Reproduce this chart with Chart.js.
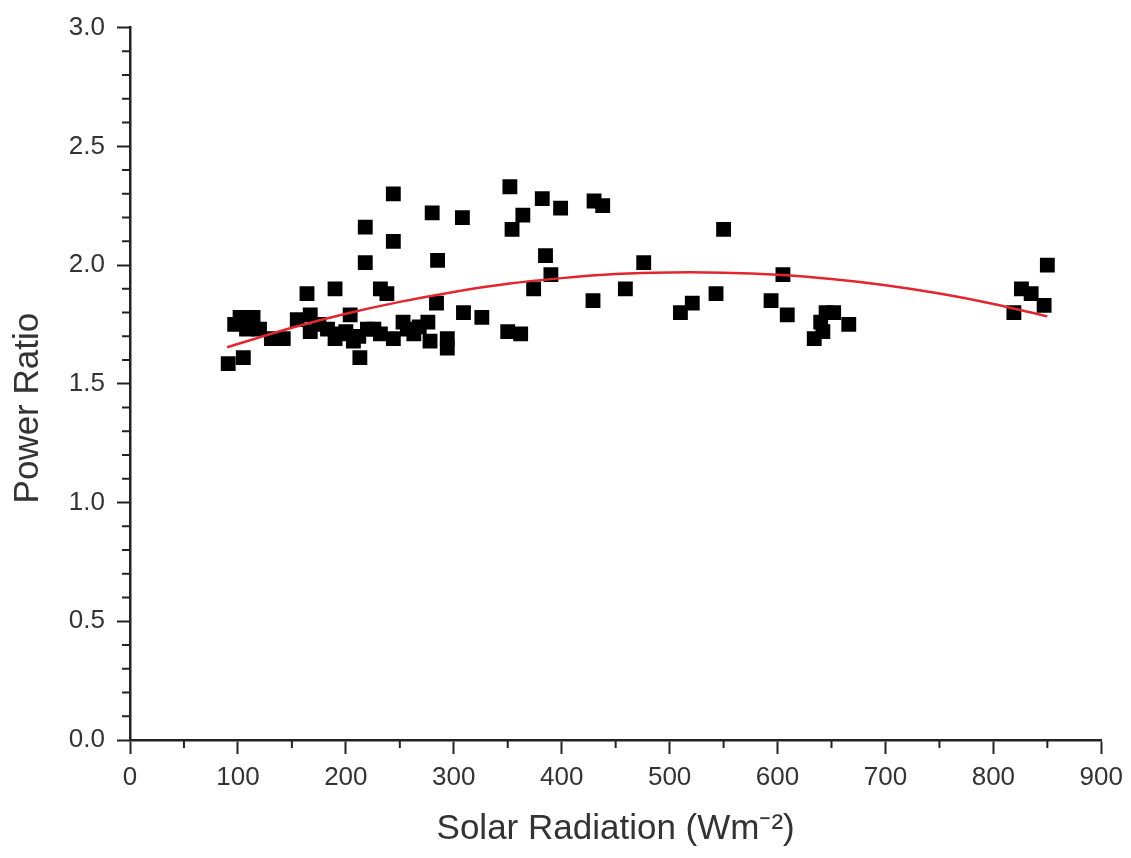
<!DOCTYPE html>
<html>
<head>
<meta charset="utf-8">
<script src="https://cdn.jsdelivr.net/npm/chart.js@4/dist/chart.umd.min.js"></script>
<style>
  html, body { margin: 0; padding: 0; background: #fff; }
  #wrap { width: 1131px; height: 858px; }
</style>
</head>
<body>
<div id="wrap"><canvas id="chartPower" width="1131" height="858"></canvas></div>
<script>
// measured points (solar radiation, power ratio)
const radiation = [
  91, 105, 102, 114, 108, 120, 97, 131, 142, 155, 167, 167, 183, 195, 204, 207, 213, 220,
  232, 244, 253, 257, 263, 276, 278, 294, 294, 175, 190, 200, 212, 226, 268,
  164, 190, 232, 238, 284, 309, 326, 218, 218, 244, 244, 280, 285, 308,
  352, 354, 364, 382, 399, 430, 438, 385, 390, 374, 350, 362, 429, 459, 476, 510, 521, 543, 550,
  605, 594, 609, 634, 640, 645, 652, 666, 642,
  819, 826, 835, 847, 850
];
const powerRatio = [
  1.585, 1.61, 1.78, 1.78, 1.73, 1.73, 1.75, 1.69, 1.69, 1.77, 1.79, 1.72, 1.73, 1.71, 1.79, 1.68, 1.61, 1.73,
  1.71, 1.69, 1.76, 1.73, 1.71, 1.76, 1.68, 1.65, 1.69, 1.75, 1.69, 1.72, 1.70, 1.73, 1.74,
  1.88, 1.90, 1.90, 1.88, 1.84, 1.80, 1.78, 2.16, 2.01, 2.30, 2.10, 2.22, 2.02, 2.20,
  2.33, 2.15, 2.21, 2.28, 2.24, 2.27, 2.25, 2.04, 1.96, 1.90, 1.72, 1.71, 1.85, 1.90, 2.01, 1.80, 1.84, 1.88, 2.15,
  1.96, 1.85, 1.79, 1.69, 1.76, 1.80, 1.80, 1.75, 1.72,
  1.80, 1.90, 1.88, 1.83, 2.00
];

// fitted curve
const fitX = [90, 150, 200, 250, 300, 350, 400, 450, 500, 550, 600, 650, 700, 750, 800, 850];
const fitY = [1.654, 1.736, 1.795, 1.845, 1.887, 1.921, 1.945, 1.962, 1.969, 1.968, 1.959, 1.941, 1.915, 1.880, 1.836, 1.784];

const xMajor = 100, xMinor = 50;
const yMajor = 0.5, yMinor = 0.1;

const fontFamily = "'Liberation Sans', Arial, sans-serif";

// short minor ticks between the labelled ones
const minorTicks = {
  id: "minorTicks",
  afterDraw(chart) {
    const { ctx, scales: { x, y } } = chart;
    ctx.save();
    ctx.strokeStyle = "#222";
    ctx.lineWidth = 2;
    ctx.beginPath();
    for (let v = xMinor; v < x.max; v += xMajor) {
      const px = x.getPixelForValue(v);
      ctx.moveTo(px, x.top);
      ctx.lineTo(px, x.top + 8);
    }
    for (let i = 1; i < 30; i++) {
      if (i % 5 === 0) continue;
      const py = y.getPixelForValue(i * yMinor);
      ctx.moveTo(y.right, py);
      ctx.lineTo(y.right - 8, py);
    }
    ctx.stroke();
    ctx.restore();
  }
};

document.addEventListener("DOMContentLoaded", () => {
  const ctx = document.getElementById("chartPower");
  new Chart(ctx, {
    type: "scatter",
    data: {
      datasets: [
        {
          label: "Fit",
          type: "line",
          data: fitX.map((v, i) => ({ x: v, y: fitY[i] })),
          borderColor: "#e3262e",
          borderWidth: 2.5,
          pointRadius: 0,
          tension: 0.4,
          fill: false,
          order: 0
        },
        {
          label: "Power Ratio",
          data: radiation.map((v, i) => ({ x: v, y: powerRatio[i] })),
          pointStyle: "rect",
          pointRadius: 10.5,
          pointHoverRadius: 10.5,
          backgroundColor: "#000",
          borderColor: "#000",
          borderWidth: 0,
          order: 1
        }
      ]
    },
    options: {
      responsive: false,
      animation: false,
      events: [],
      layout: { padding: { top: 25, right: 29, left: 0, bottom: 0 } },
      plugins: { legend: { display: false }, tooltip: { enabled: false } },
      scales: {
        x: {
          type: "linear",
          min: 0,
          max: 900,
          afterFit: s => { s.height = 118; },
          ticks: { stepSize: xMajor, color: "#333", padding: 8, maxRotation: 0,
                   font: { family: fontFamily, size: 26 } },
          grid: { drawOnChartArea: false, tickLength: 14, tickWidth: 2, tickColor: "#222" },
          border: { display: true, color: "#222", width: 2.5 },
          title: { display: true, text: "Solar Radiation (Wm⁻²)", color: "#333",
                   padding: { top: 0, bottom: 8 }, font: { family: fontFamily, size: 35 } }
        },
        y: {
          min: 0,
          max: 3,
          afterFit: s => { s.width = 130; },
          ticks: { stepSize: yMajor, color: "#333", padding: 12,
                   callback: v => v.toFixed(1),
                   font: { family: fontFamily, size: 26 } },
          grid: { drawOnChartArea: false, tickLength: 13, tickWidth: 2, tickColor: "#222" },
          border: { display: true, color: "#222", width: 2.5 },
          // trailing spaces push the title a little below the axis centre, as in the original
          title: { display: true, text: "Power Ratio     ", color: "#333",
                   padding: { top: 7, bottom: 0 }, font: { family: fontFamily, size: 35 } }
        }
      }
    },
    plugins: [minorTicks]
  });
});
</script>
</body>
</html>
